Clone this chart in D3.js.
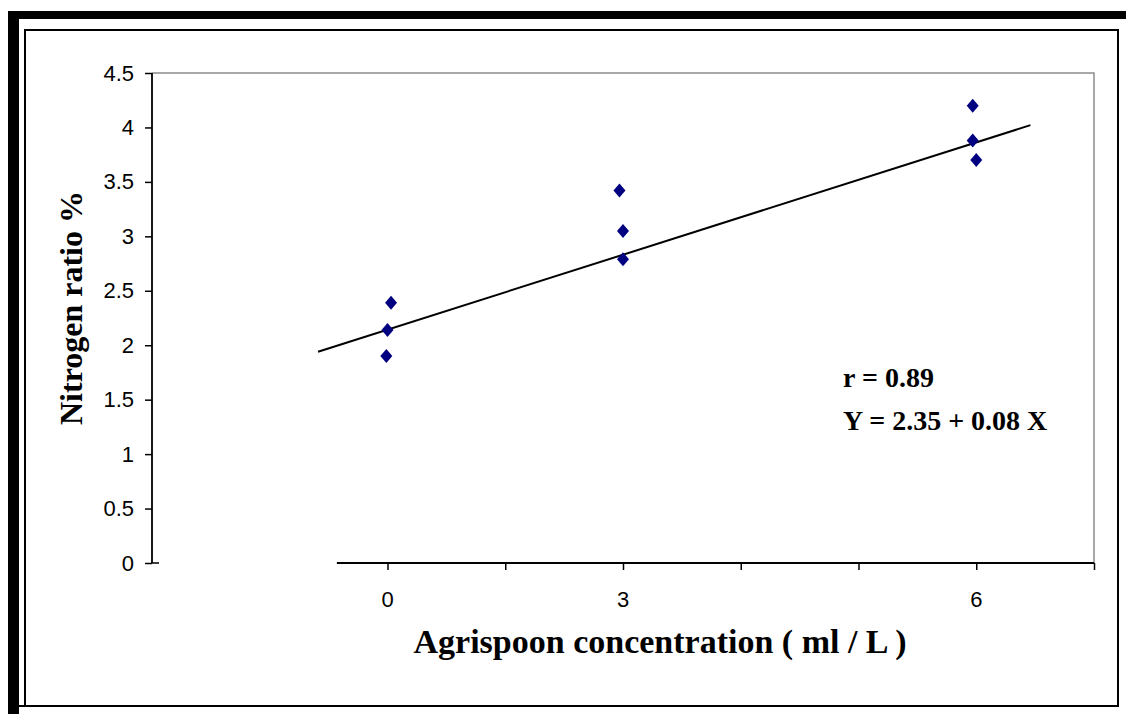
<!DOCTYPE html>
<html>
<head>
<meta charset="utf-8">
<script src="https://cdn.jsdelivr.net/npm/d3@7"></script>
<style>
  html, body { margin: 0; padding: 0; background: #fff; }
  svg { display: block; }
</style>
</head>
<body>
<div id="chart"></div>
<script>
// concentration groups as labelled on the axis, and where each sits on the tick grid
const groupLabels = ["0", "3", "6"];
const groupPos = [0, 2, 5];

// replicate readings (x on the tick grid, nitrogen %)
const pointX = [0.03, 0.0, -0.01, 1.97, 2.0, 2.0, 4.97, 4.97, 5.0];
const pointY = [2.39, 2.14, 1.90, 3.42, 3.05, 2.79, 4.20, 3.88, 3.70];

// fitted trend line as drawn
const trendX = [-0.59, 5.46];
const trendIntercept = 2.143;
const trendSlope = 0.344;

const yTicks = [0, 0.5, 1, 1.5, 2, 2.5, 3, 3.5, 4, 4.5];
const xTicks = [0, 1, 2, 3, 4, 5, 6];

const annot = ["r = 0.89", "Y = 2.35 + 0.08 X"];

const W = 1126, H = 714;
const svg = d3.select("#chart").append("svg")
    .attr("width", W)
    .attr("height", H);

// outer frame: thick top and left, thin inner box
svg.append("rect")
    .attr("x", 8).attr("y", 11)
    .attr("width", W - 8).attr("height", 8)
    .attr("fill", "#000");
svg.append("rect")
    .attr("x", 8).attr("y", 11)
    .attr("width", 11).attr("height", H - 11)
    .attr("fill", "#000");
svg.append("rect")
    .attr("x", 25).attr("y", 30)
    .attr("width", 1093).attr("height", 676)
    .attr("fill", "none")
    .attr("stroke", "#000")
    .attr("stroke-width", 2);
svg.append("line")
    .attr("x1", 19).attr("x2", 26)
    .attr("y1", 706).attr("y2", 706)
    .attr("stroke", "#000").attr("stroke-width", 2);

const x = d3.scaleLinear().domain([-2, 6]).range([152, 1094]);
const y = d3.scaleLinear().domain([0, 4.5]).range([563, 73]);

// plot area border (grey, top + right)
svg.append("path")
    .attr("d", `M${x(-2)},${y(4.5)}H${x(6)}V${y(0)}`)
    .attr("fill", "none")
    .attr("stroke", "#8c8c8c")
    .attr("stroke-width", 1.5);

const tickFont = "'Liberation Sans', Arial, sans-serif";
const titleFont = "'Liberation Serif', 'Times New Roman', serif";

// y axis
const yAxis = svg.append("g")
    .attr("transform", `translate(${x(-2)},0)`)
    .call(d3.axisLeft(y).tickValues(yTicks).tickSize(7).tickPadding(11)
        .tickFormat(d3.format("~g")));
yAxis.select(".domain").attr("stroke-width", 1.8)
    .attr("d", `M0,${y(0)}V${y(4.5)}`);
yAxis.selectAll(".tick line").attr("stroke-width", 1.5);
yAxis.selectAll("text")
    .style("font-family", tickFont)
    .style("font-size", "22px")
    .attr("fill", "#000");
yAxis.append("line")
    .attr("x1", 0).attr("x2", 7)
    .attr("y1", y(0)).attr("y2", y(0))
    .attr("stroke", "#000").attr("stroke-width", 1.5);

// x axis: ticks only, labels at the group positions
const xAxis = svg.append("g")
    .attr("transform", `translate(0,${y(0)})`)
    .call(d3.axisBottom(x).tickValues(xTicks).tickSize(7).tickFormat(""));
xAxis.select(".domain").remove();
xAxis.selectAll(".tick line").attr("stroke-width", 1.5);
xAxis.append("line")
    .attr("x1", x(-0.43)).attr("x2", x(6))
    .attr("stroke", "#000").attr("stroke-width", 2);
xAxis.selectAll(".grp")
    .data(groupLabels)
    .join("text")
    .attr("class", "grp")
    .attr("x", (d, i) => x(groupPos[i]))
    .attr("y", 44)
    .attr("text-anchor", "middle")
    .attr("fill", "#000")
    .style("font-family", tickFont)
    .style("font-size", "22px")
    .text(d => d);

// trend line
svg.append("line")
    .attr("x1", x(trendX[0]))
    .attr("y1", y(trendIntercept + trendSlope * trendX[0]))
    .attr("x2", x(trendX[1]))
    .attr("y2", y(trendIntercept + trendSlope * trendX[1]))
    .attr("stroke", "#000")
    .attr("stroke-width", 2);

// diamond markers
const diamond = "M0,-7L6,0L0,7L-6,0Z";
svg.append("g")
    .selectAll("path")
    .data(pointY)
    .join("path")
    .attr("d", diamond)
    .attr("transform", (d, i) => `translate(${x(pointX[i])},${y(d)})`)
    .attr("fill", "#000080");

// axis titles
svg.append("text")
    .attr("x", 660)
    .attr("y", 653)
    .attr("text-anchor", "middle")
    .style("font-family", titleFont)
    .style("font-weight", "bold")
    .style("font-size", "34px")
    .text("Agrispoon concentration ( ml / L )");

svg.append("text")
    .attr("transform", `translate(82,308) rotate(-90)`)
    .attr("text-anchor", "middle")
    .style("font-family", titleFont)
    .style("font-weight", "bold")
    .style("font-size", "32px")
    .text("Nitrogen ratio %");

// regression note
svg.append("g")
    .selectAll("text")
    .data(annot)
    .join("text")
    .attr("x", 843)
    .attr("y", (d, i) => 387 + i * 43)
    .style("font-family", titleFont)
    .style("font-weight", "bold")
    .style("font-size", "28px")
    .text(d => d);
</script>
</body>
</html>
